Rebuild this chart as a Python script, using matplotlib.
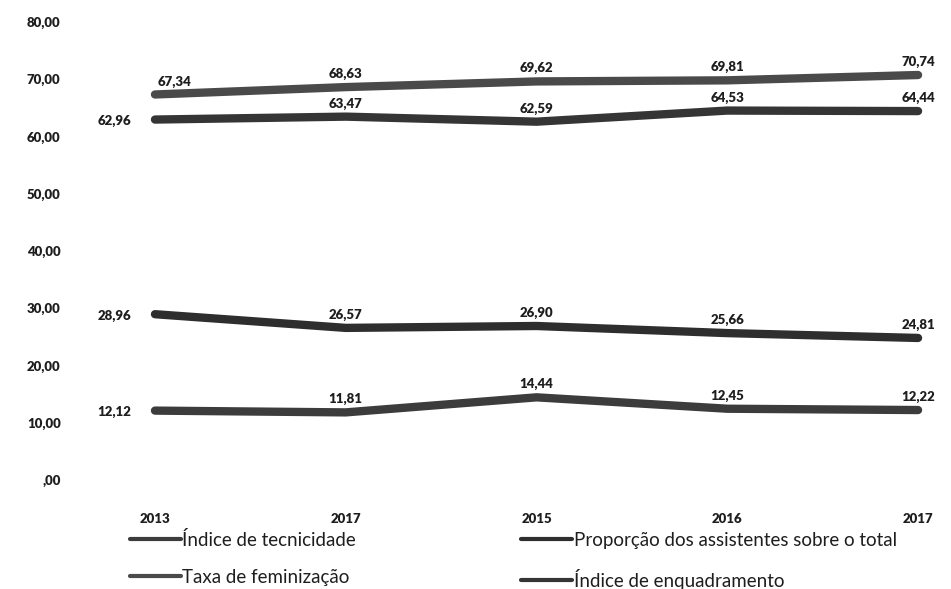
import matplotlib.pyplot as plt
import numpy as np

# chart data
anos = ["2013", "2017", "2015", "2016", "2017"]
tecnicidade = [12.12, 11.81, 14.44, 12.45, 12.22]
proporcao_assistentes = [28.96, 26.57, 26.90, 25.66, 24.81]
feminizacao = [67.34, 68.63, 69.62, 69.81, 70.74]
enquadramento = [62.96, 63.47, 62.59, 64.53, 64.44]
y_ticks = [0, 10, 20, 30, 40, 50, 60, 70, 80]
y_tick_labels = [",00", "10,00", "20,00", "30,00", "40,00", "50,00", "60,00", "70,00", "80,00"]

plt.rcParams['font.family'] = ['Lato', 'DejaVu Sans']

fig = plt.figure(figsize=(9.51, 5.89), dpi=100)
ax = fig.add_axes([80 / 951, 109 / 589, 860 / 951, 458 / 589])

x = np.arange(len(anos))
series = [
    ("Índice de tecnicidade", tecnicidade, "#3c3c3c"),
    ("Taxa de feminização", feminizacao, "#4a4a4a"),
    ("Proporção dos assistentes sobre o total", proporcao_assistentes, "#2e2e2e"),
    ("Índice de enquadramento", enquadramento, "#353535"),
]

lbl = dict(fontsize=9.5, fontweight='heavy', color='#1e1e1e')
handles = []
for name, vals, col in series:
    h, = ax.plot(x, vals, color=col, lw=6, solid_capstyle='round', label=name)
    handles.append(h)
    for i, v in enumerate(vals):
        txt = f"{v:.2f}".replace(".", ",")
        if i == 0 and name != "Taxa de feminização":
            ax.annotate(txt, (i, v), xytext=(-17, -1), textcoords='offset points',
                        ha='right', va='center', **lbl)
        else:
            ax.annotate(txt, (i, v), xytext=(2 if i == 0 else 0, 5), textcoords='offset points',
                        ha='left' if i == 0 else 'center', va='bottom', **lbl)

ax.set_xlim(-0.393, 4.115)
ax.set_ylim(0, 80)
ax.set_xticks(x)
ax.set_xticklabels(anos, **lbl)
ax.set_yticks(y_ticks)
ax.set_yticklabels(y_tick_labels, **lbl)
ax.tick_params(axis='both', length=0)
ax.tick_params(axis='x', pad=24)
ax.tick_params(axis='y', pad=14)
for sp in ax.spines.values():
    sp.set_visible(False)

leg = fig.legend(handles=handles, loc='upper left', bbox_to_anchor=(130 / 951, 1 - 531 / 589),
                 ncol=2, frameon=False, fontsize=13.5, handlelength=2.7, handletextpad=0.1,
                 columnspacing=8.8, labelspacing=1.05, borderpad=0, borderaxespad=0)
for t in leg.get_texts():
    t.set_color('#1e1e1e')
for lh in leg.get_lines():
    lh.set_linewidth(3)

fig.savefig("out.png", dpi=100)
